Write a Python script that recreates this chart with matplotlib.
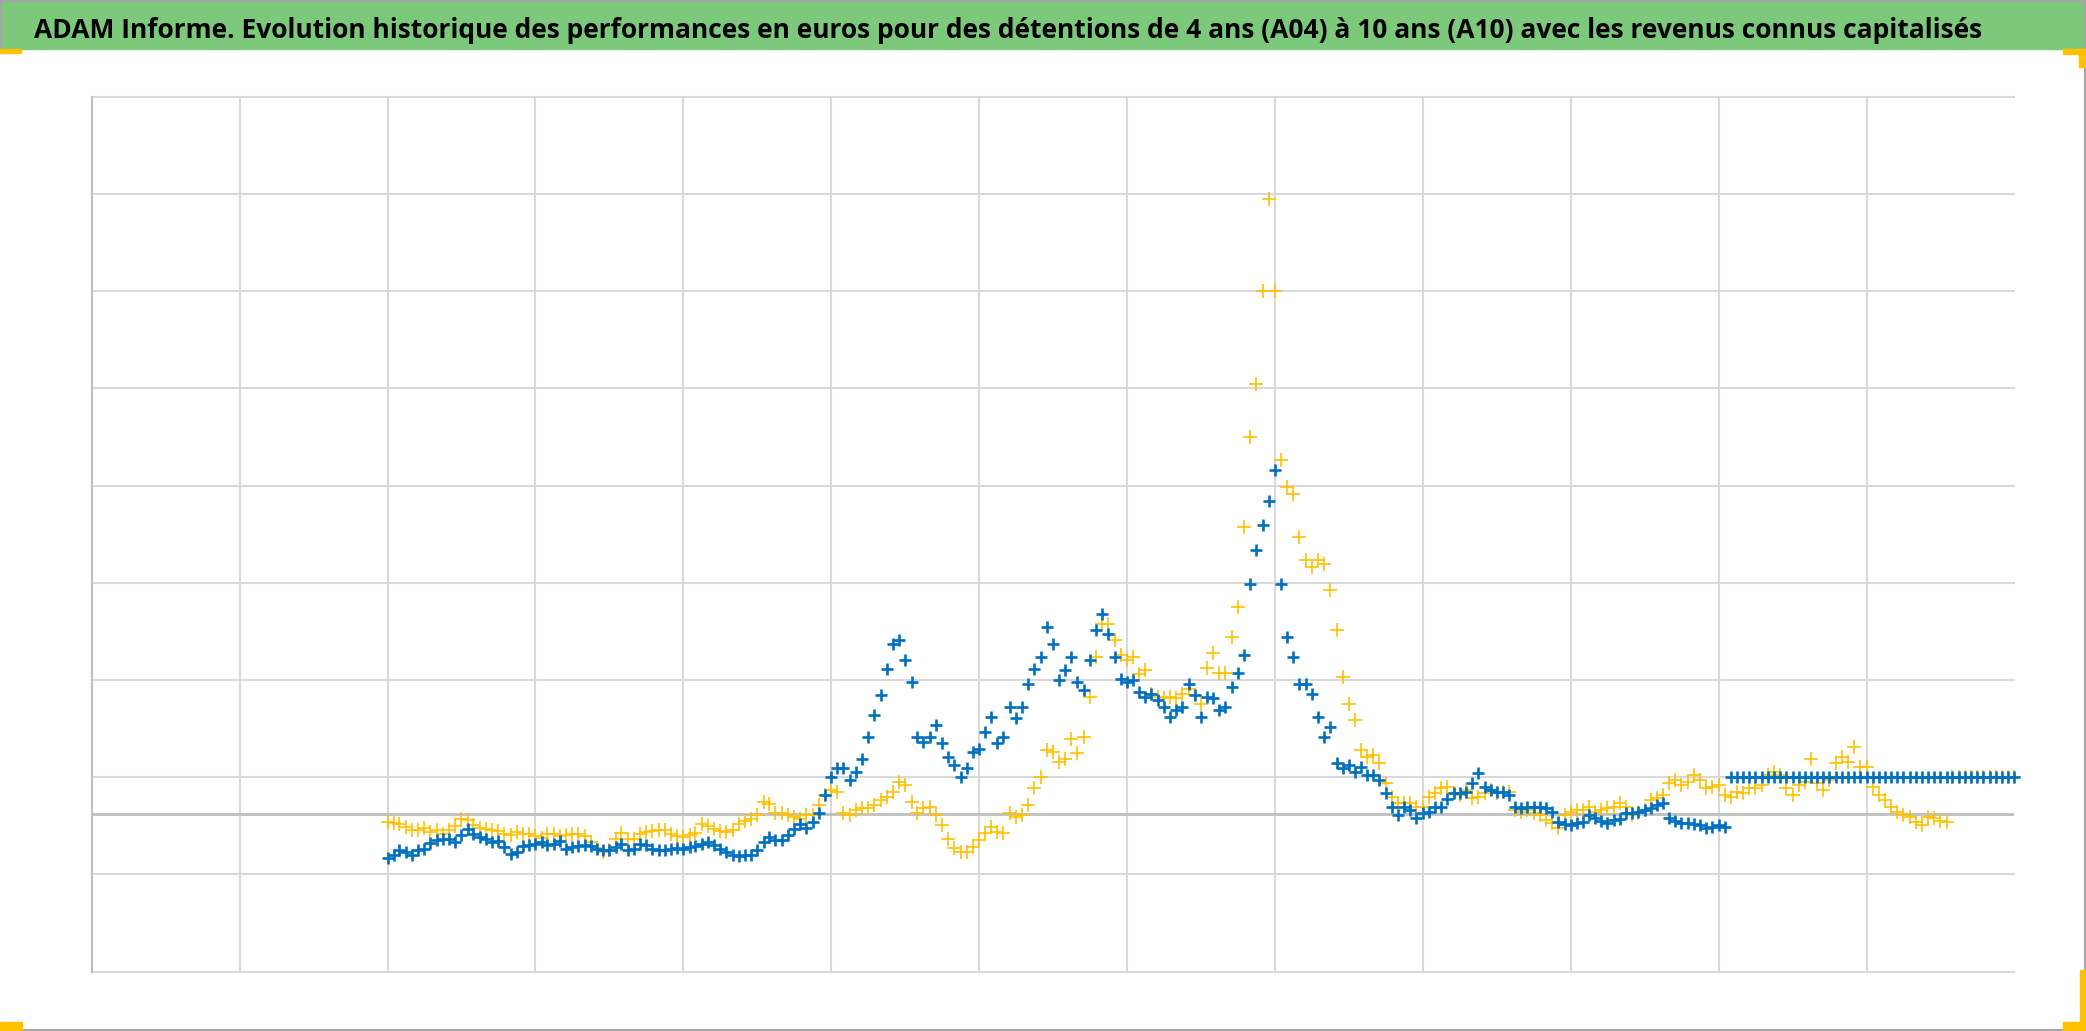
import numpy as np
import pandas as pd
import matplotlib
matplotlib.use("Agg")
import matplotlib.pyplot as plt
from matplotlib import font_manager as fm
from matplotlib.textpath import TextPath
from matplotlib.patches import Rectangle
from matplotlib.lines import Line2D

W, H = 2086, 1031

title = ("ADAM Informe. Evolution historique des performances en euros pour des "
         "détentions de 4 ans (A04) à 10 ans (A10) avec les revenus connus capitalisés")

# monthly values, first month = Jan 1998
start = "1998-01-01"
flat_level = 15.0   # both series sit on this constant level at the end

a04_values = [
    -18.1, -17.1, -15.1, -15.7, -17.1, -15.0, -14.4, -12.0, -11.0, -10.3,
    -10.3, -11.6, -8.9, -6.2, -8.5, -9.6, -10.3, -11.6, -11.2, -13.7,
    -16.4, -15.7, -13.4, -13.0, -12.3, -11.6, -13.0, -12.6, -11.2, -14.4,
    -13.7, -13.4, -13.0, -13.4, -14.4, -15.1, -15.1, -13.7, -12.3, -15.1,
    -14.4, -12.6, -13.0, -14.4, -15.1, -15.1, -14.4, -14.0, -14.4, -13.7,
    -13.4, -12.6, -11.6, -13.0, -14.4, -15.7, -17.1, -17.5, -17.1, -17.1,
    -15.1, -11.6, -9.6, -11.0, -11.0, -8.9, -6.2, -4.1,
    -6.0, -3.3, 0.1, 7.7, 15.2, 18.6, 18.6, 13.8, 17.2, 22.7,
    31.6, 40.5, 48.7, 59.7, 70.0, 71.3, 63.1, 54.2, 31.6, 29.6,
    31.6, 36.4, 28.9, 23.4, 20.0, 15.2, 18.6, 25.4, 26.8, 33.7,
    39.8, 28.9, 31.6, 44.0, 39.2, 44.0, 53.5, 59.7, 64.5, 76.8,
    70.0, 54.9, 59.0, 64.5, 54.2, 50.8, 63.1, 75.4, 82.3, 74.0,
    64.5, 55.6, 54.2, 54.9, 50.1, 48.1,
    49.4, 46.7, 44.0, 39.8, 42.6, 44.0, 53.5, 48.7, 39.8, 48.1,
    47.4, 42.6, 44.0, 52.2, 57.9, 65.2, 94.6, 108.3, 118.6, 128.8,
    141.2, 94.6, 72.7, 64.5, 53.5, 53.5, 49.4, 39.8, 31.6, 35.7,
    20.7, 18.6, 20.0, 17.3, 19.3, 15.9, 15.9, 13.8, 8.4, 2.9,
    -0.5, 2.9, 1.5, -1.9, 0.2, 0.8, 2.9, 2.9, 6.0, 8.4,
    8.4, 9.0, 12.5, 16.6, 11.1, 9.7, 9.0,
    9.0, 7.7, 2.9, 2.2, 2.9, 2.6, 2.9, 2.2, 0.8, -3.3,
    -4.2, -4.6, -3.7, -3.3, -0.5, -1.9, -2.9, -3.7, -2.6, -2.3,
    0.1, 0.4, 0.8, 1.5, 2.2, 3.6, 4.5, -1.9, -2.9, -3.9,
    -3.9, -4.2, -4.6, -6.0, -5.3, -4.6, -5.6,
] + [flat_level] * 47

a10_values = [
    -3.4, -3.8, -4.1, -5.5, -6.6, -6.6, -5.7, -7.5, -6.8, -8.2,
    -6.8, -5.2, -2.1, -2.7, -4.8, -5.7, -6.3, -6.8, -7.1, -8.2,
    -8.6, -7.7, -8.2, -8.2, -9.3, -10.0, -8.5, -8.2, -9.3, -8.8,
    -8.2, -8.5, -9.3, -11.6, -14.0, -15.7, -15.1, -10.3, -7.9, -10.3,
    -10.3, -8.2, -7.5, -7.3, -6.8, -6.6, -8.2, -9.3, -9.6, -8.9,
    -7.9, -4.4, -5.2, -6.3, -7.1, -7.4, -6.6, -4.1, -3.0, -2.1,
    -0.7, 4.8, 4.1, 0.3, 0.3, -0.5, -1.5, -2.0,
    -0.5, -0.5, 3.6, 7.7, 9.7, 9.0, 0.1, -0.5, 1.5, 2.2,
    2.2, 3.6, 5.6, 7.0, 9.0, 13.1, 11.8, 4.9, 0.1, 2.2,
    2.6, -0.5, -4.6, -10.5, -14.2, -15.6, -15.6, -13.5, -10.8, -8.1,
    -5.3, -7.4, -8.1, 0.1, -1.2, -0.5, 3.6, 10.4, 15.2, 26.2,
    25.5, 21.4, 22.7, 30.9, 24.8, 31.6, 48.1, 64.5, 78.2, 78.2,
    71.3, 65.2, 63.1, 64.5, 57.6, 59.0,
    49.4, 48.1, 47.4, 48.1, 47.4, 49.4, 51.5, 48.7, 45.3, 60.0,
    66.0, 58.0, 58.0, 72.7, 85.0, 118.0, 154.8, 176.7, 215.1, 253.0,
    215.0, 145.3, 134.3, 131.6, 113.8, 104.2, 101.5, 104.2, 102.8, 91.9,
    75.4, 56.3, 45.3, 38.5, 26.2, 23.4, 24.1, 20.7, 12.5, 7.0,
    4.3, 4.3, 4.3, 2.9, 2.9, 7.0, 8.4, 10.4, 11.1, 8.4,
    7.7, 9.7, 6.3, 7.0, 8.4, 9.7, 8.4,
    9.0, 9.0, 1.5, 0.8, 1.5, 0.1, -0.5, -2.6, -3.9, -6.0,
    -0.5, 0.8, 1.5, 1.5, 2.9, 0.8, 1.5, 2.2, 2.9, 4.2,
    2.9, -0.5, 0.1, 1.5, 5.6, 6.3, 7.7, 12.5, 13.8, 11.8,
    13.1, 15.9, 13.8, 10.4, 11.1, 11.8, 7.7, 7.0, 9.0, 8.4,
    10.4, 10.4, 11.8, 15.9, 17.2, 15.9, 10.4, 7.7, 11.8, 13.1,
    22.7, 12.5, 9.7, 13.8, 20.7, 23.4, 21.4, 27.5, 19.3, 19.3,
    11.1, 7.7, 5.6, 2.9, 0.8, -0.5, -1.2, -3.3, -4.6, -1.2,
    -1.9, -2.9, -3.3,
] + [flat_level] * 11

a04_dates = pd.date_range(start, periods=len(a04_values), freq="MS")
a10_dates = pd.date_range(start, periods=len(a10_values), freq="MS")

# axis setup (Excel-like: min -65, major unit 40, axis crossing at 0)
y_min, y_max, y_step = -65, 295, 40
x_start, x_end = pd.Timestamp("1994-01-01"), pd.Timestamp("2020-01-01")
x_ticks = pd.date_range("1994-01-01", "2018-01-01", freq="2YS")

BLUE = "#0070C0"
GOLD = "#FFC000"
GREEN = "#7CC97C"
GRID = "#D9D9D9"
AXIS = "#BFBFBF"
BORDER = "#A6A6A6"


def title_font(text, width_px, cap_px):
    # pick the bold face whose cap height is closest to the target once the
    # title is fitted to the band width (the original uses a narrow font)
    best, best_err = None, None
    for fam in ["Liberation Sans Narrow", "Roboto Condensed", "DejaVu Sans Condensed",
                "Roboto", "Lato", "Liberation Sans", "Open Sans", "Noto Sans",
                "Inter", "DejaVu Sans"]:
        try:
            path = fm.findfont(fm.FontProperties(family=fam, weight="bold"),
                               fallback_to_default=False)
        except ValueError:
            continue
        fp = fm.FontProperties(fname=path)
        wdt = TextPath((0, 0), text, size=100, prop=fp).get_extents().width
        cap = TextPath((0, 0), "H", size=100, prop=fp).get_extents().height
        err = abs(cap * width_px / wdt - cap_px)
        if best_err is None or err < best_err:
            best, best_err = fp, err
    return best or fm.FontProperties(family="DejaVu Sans", weight="bold")


def px_box(x0, y0, w, h):
    # pixel box (top-left origin) -> figure fraction
    return (x0 / W, 1 - (y0 + h) / H), w / W, h / H


fig = plt.figure(figsize=(W / 100, H / 100), dpi=100)
fig.patch.set_facecolor("white")

# green title band
xy, w, h = px_box(0, 0, W, 49)
fig.patches.append(Rectangle(xy, w, h, transform=fig.transFigure, color=GREEN, zorder=0))

# outer border
fig.add_artist(Line2D([0, 1], [1 - 1 / H, 1 - 1 / H], transform=fig.transFigure, color=BORDER, lw=1.5))
fig.add_artist(Line2D([1 - 1 / W, 1 - 1 / W], [0, 1], transform=fig.transFigure, color=BORDER, lw=1.5))
fig.add_artist(Line2D([0, 1], [0.6 / H, 0.6 / H], transform=fig.transFigure, color=BORDER, lw=1.5))
fig.add_artist(Line2D([0.6 / W, 0.6 / W], [1 - 49 / H, 1], transform=fig.transFigure, color=BORDER, lw=1.5))

# yellow selection corners
for box in [(0, 49, 21, 4), (2063, 49, 23, 5), (2079, 49, 7, 18),
            (0, 1022, 22, 9), (2063, 1022, 23, 9), (2080, 970, 6, 61)]:
    xy, w, h = px_box(*box)
    fig.patches.append(Rectangle(xy, w, h, transform=fig.transFigure, color=GOLD, zorder=3))

# title, fitted to the band width
title_w = 1984 - 33.5
t = fig.text(33.5 / W, 1 - 37.5 / H, title, ha="left", va="baseline",
             fontproperties=title_font(title, title_w, 19), color="black")
t.set_fontsize(20)
fig.canvas.draw()
bb = t.get_window_extent()
t.set_fontsize(20 * title_w / bb.width)

ax = fig.add_axes([91.7 / W, 1 - 971.7 / H, (2014.4 - 91.7) / W, (971.7 - 96.6) / H])
ax.set_xlim(x_start, x_end)
ax.set_ylim(y_min, y_max)
ax.set_xticks(x_ticks)
ax.set_yticks(np.arange(y_min, y_max + 1, y_step))
ax.tick_params(length=0, labelbottom=False, labelleft=False)
ax.grid(True, color=GRID, lw=1.5)
for gl in ax.get_xgridlines() + ax.get_ygridlines():
    gl.set_clip_on(False)
for side in ["top", "right", "bottom"]:
    ax.spines[side].set_visible(False)
ax.spines["left"].set_color(AXIS)
ax.spines["left"].set_linewidth(1.5)
ax.axhline(0, color=AXIS, lw=2, zorder=1.5)
ax.set_axisbelow(True)

ax.plot(a10_dates, a10_values, linestyle="none", marker="+", ms=9.5, mew=1.2,
        color=GOLD, zorder=2, clip_on=False)
ax.plot(a04_dates, a04_values, linestyle="none", marker="+", ms=8, mew=1.9,
        color=BLUE, zorder=3, clip_on=False)

fig.savefig("out.png", dpi=100)
